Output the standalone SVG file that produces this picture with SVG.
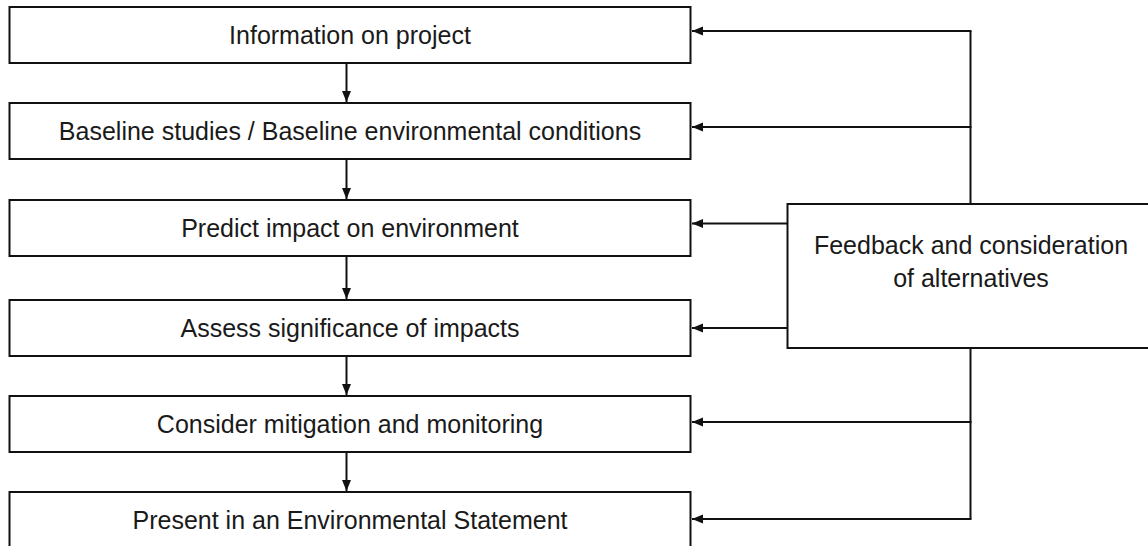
<svg xmlns="http://www.w3.org/2000/svg" width="1148" height="546" viewBox="0 0 1148 546">
<defs>
<style>
.box{fill:#fff;stroke:#111;stroke-width:2}
.t{font-family:"Liberation Sans",Arial,sans-serif;font-size:25px;fill:#1a1a1a;text-anchor:middle}
.c{fill:none;stroke:#111;stroke-width:2}
</style>
<marker id="ah" markerUnits="userSpaceOnUse" markerWidth="12" markerHeight="10" viewBox="0 0 12 10" refX="11" refY="5" orient="auto">
<path d="M0,0.5 L11,5 L0,9.5 Z" fill="#111"/>
</marker>
</defs>
<rect width="1148" height="546" fill="#fff"/>
<g id="n1"><rect class="box" x="9.5" y="7" width="681" height="56"/><text class="t" x="350" y="44">Information on project</text></g>
<g id="n2"><rect class="box" x="9.5" y="103" width="681" height="56"/><text class="t" x="350" y="140">Baseline studies / Baseline environmental conditions</text></g>
<g id="n3"><rect class="box" x="9.5" y="200" width="681" height="56"/><text class="t" x="350" y="237">Predict impact on environment</text></g>
<g id="n4"><rect class="box" x="9.5" y="300" width="681" height="56"/><text class="t" x="350" y="337">Assess significance of impacts</text></g>
<g id="n5"><rect class="box" x="9.5" y="396" width="681" height="56"/><text class="t" x="350" y="433">Consider mitigation and monitoring</text></g>
<g id="n6"><rect class="box" x="9.5" y="492" width="681" height="60"/><text class="t" x="350" y="529">Present in an Environmental Statement</text></g>
<g id="fb"><rect class="box" x="787.5" y="204" width="364" height="144"/><text class="t" x="971" y="254">Feedback and consideration</text><text class="t" x="971" y="287">of alternatives</text></g>
<g id="connectors">
<path class="c" d="M346.5,63 V102" marker-end="url(#ah)"/>
<path class="c" d="M346.5,159 V199" marker-end="url(#ah)"/>
<path class="c" d="M346.5,256 V299" marker-end="url(#ah)"/>
<path class="c" d="M346.5,356 V395" marker-end="url(#ah)"/>
<path class="c" d="M346.5,452 V491" marker-end="url(#ah)"/>
<path class="c" d="M970.5,204 V31"/>
<path class="c" d="M970.5,348 V519"/>
<path class="c" d="M971.5,31 H692" marker-end="url(#ah)"/>
<path class="c" d="M971.5,127 H692" marker-end="url(#ah)"/>
<path class="c" d="M787.5,223.5 H692" marker-end="url(#ah)"/>
<path class="c" d="M787.5,328 H692" marker-end="url(#ah)"/>
<path class="c" d="M971.5,422 H692" marker-end="url(#ah)"/>
<path class="c" d="M971.5,519 H692" marker-end="url(#ah)"/>
</g>
</svg>
